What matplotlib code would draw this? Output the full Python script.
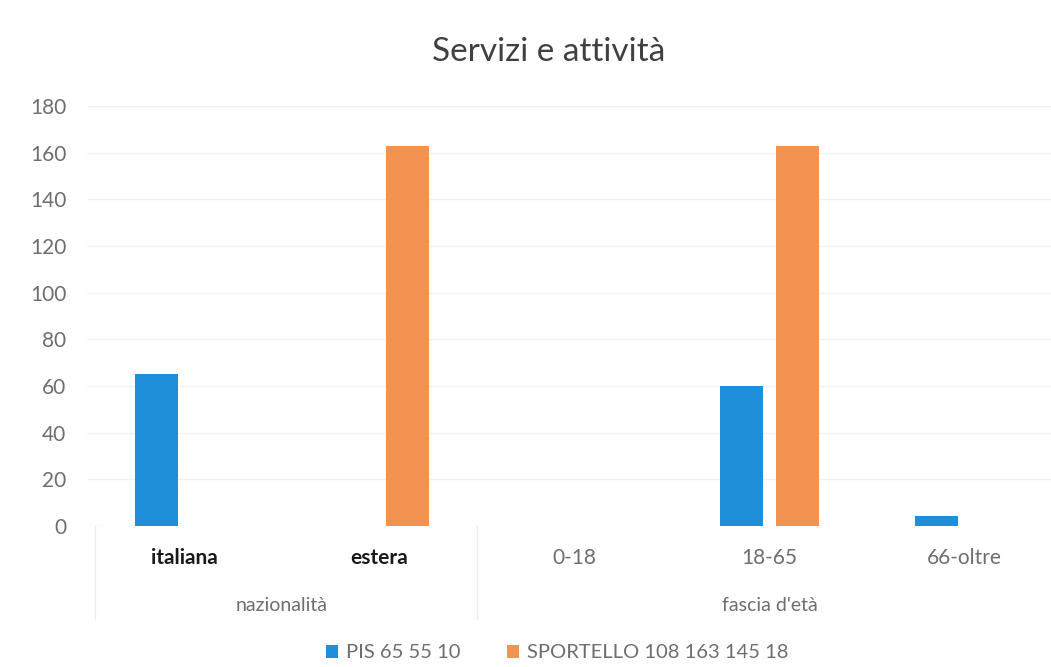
import matplotlib
matplotlib.use("Agg")
import matplotlib.pyplot as plt
import numpy as np

categories = ["italiana", "estera", "0-18", "18-65", "66-oltre"]
groups = ["nazionalità", "fascia d'età"]
group_sizes = [2, 3]
series_names = ["PIS 65 55 10", "SPORTELLO 108 163 145 18"]
pis = [65, 0, 0, 60, 4.5]
sportello = [0, 163, 0, 163, 0]
yticks = [0, 20, 40, 60, 80, 100, 120, 140, 160, 180]

blue = "#1f8fdc"
orange = "#f39350"
font = "Lato"

fig = plt.figure(figsize=(10.51, 6.67), dpi=100)
W, H = 1051, 667
ax = fig.add_axes([87 / W, 141 / H, 975 / W, 420 / H])

x = np.arange(len(categories))
bw = 0.22
off = 0.1436
ax.bar(x - off, pis, bw, color=blue, label=series_names[0], zorder=3)
ax.bar(x + off, sportello, bw, color=orange, label=series_names[1], zorder=3)

ax.set_xlim(-0.5, len(categories) - 0.5)
ax.set_ylim(0, 180)
ax.set_yticks(yticks)
ax.set_yticklabels([str(v) for v in yticks], fontsize=15, color="#6e6e6e", family=font)
ax.yaxis.grid(True, color="#f2f2f2", linewidth=1, zorder=0)
ax.tick_params(axis="y", length=0, pad=15)
ax.tick_params(axis="x", length=0)
ax.set_xticks([])
for s in ax.spines.values():
    s.set_visible(False)

# category labels
cat_colors = ["#1a1a1a", "#1a1a1a", "#6e6e6e", "#6e6e6e", "#6e6e6e"]
cat_weights = ["bold", "bold", "normal", "normal", "normal"]
for i, (c, col, wgt) in enumerate(zip(categories, cat_colors, cat_weights)):
    ax.text(i, -13.5, c, ha="center", va="center", fontsize=15, color=col,
            family=font, fontweight=wgt, clip_on=False)

# group labels and separators
start = 0
for g, n in zip(groups, group_sizes):
    center = start + (n - 1) / 2
    ax.text(center, -34, g, ha="center", va="center", fontsize=14,
            color="#6e6e6e", family=font, clip_on=False)
    start += n
sep_positions = [-0.46, -0.5 + group_sizes[0]]
for b in sep_positions:
    ax.plot([b, b], [0, -40], color="#ededed", linewidth=1, clip_on=False)

fig.text(0.522, 1 - 52 / H, "Servizi e attività", ha="center", va="center",
         fontsize=24, color="#404040", family=font)

fig.legend(loc="center", bbox_to_anchor=(0.53, 1 - 653 / H), ncol=2, frameon=False,
           prop={"family": font, "size": 14.5}, handlelength=0.6, handleheight=0.6,
           columnspacing=2.3, handletextpad=0.4, labelcolor="#6e6e6e")

fig.savefig("out.png", dpi=100)
